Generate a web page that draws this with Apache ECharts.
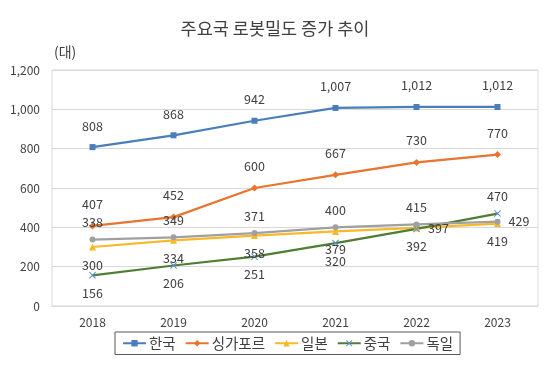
<!DOCTYPE html>
<html><head><meta charset="utf-8">
<script src="https://cdn.jsdelivr.net/npm/echarts@6/dist/echarts.min.js"></script>
<style>html,body{margin:0;padding:0;background:#fff}#c{width:550px;height:371px}</style>
</head><body><div id="c"></div>
<script>
const categories = ['2018','2019','2020','2021','2022','2023'];
const korea = [808, 868, 942, 1007, 1012, 1012];
const singapore = [407, 452, 600, 667, 730, 770];
const japan = [300, 334, 358, 379, 397, 419];
const china = [156, 206, 251, 320, 392, 470];
const germany = [338, 349, 371, 400, 415, 429];
const seriesNames = ['한국','싱가포르','일본','중국','독일'];
const yTicks = [0, 200, 400, 600, 800, 1000, 1200];

const FONT = '"Noto Sans CJK KR", "Noto Sans", sans-serif';
const xSym = 'path://M0,1L1,0L5,4L9,0L10,1L6,5L10,9L9,10L5,6L1,10L0,9L4,5Z';
const lbl = (pos) => ({show:true, position:pos, color:'#404040', fontSize:12.5, fontFamily:FONT, distance:8});
function withPos(arr, positions){
  return arr.map((v,i)=>({value:v, label:{position:positions[i]}}));
}
const chart = echarts.init(document.getElementById('c'));
chart.setOption({
  animation:false,
  title:[{text:'주요국 로봇밀도 증가 추이', left:'center', top:15, textStyle:{fontSize:17.5, fontWeight:'normal', color:'#404040', fontFamily:FONT}},
         {text:'(대)', left:49, top:40, textStyle:{fontSize:14, fontWeight:'normal', color:'#404040', fontFamily:FONT}}],
  grid:{left:52, right:12, top:70, bottom:65, show:true, borderColor:'#d9d9d9', borderWidth:1},
  legend:{left:115, top:332, itemGap:9, itemWidth:23, itemHeight:8, padding:[4,7,4,7],
    borderColor:'#595959', borderWidth:1, textStyle:{fontSize:14.5, color:'#404040', fontFamily:FONT, padding:[0,0,0,-2]}, data:seriesNames},
  xAxis:{type:'category', data:categories, boundaryGap:true,
    axisLine:{lineStyle:{color:'#d9d9d9'}}, axisTick:{show:false},
    axisLabel:{color:'#404040', fontSize:12, fontFamily:FONT, margin:10}},
  yAxis:{type:'value', min:0, max:1200, interval:200,
    axisLine:{show:false}, axisTick:{show:false},
    splitLine:{lineStyle:{color:'#d9d9d9'}},
    axisLabel:{color:'#404040', fontSize:12, fontFamily:FONT, margin:12,
      formatter:v=>yTicks.includes(v)? v.toLocaleString('en-US'):''}},
  series:[
    {name:'한국', type:'line', data:korea, symbol:'rect', symbolSize:6, color:'#4a7ebb',
      lineStyle:{width:2.2}, label:Object.assign(lbl('top'),{formatter:p=>p.value.toLocaleString('en-US'), distance:12})},
    {name:'싱가포르', type:'line', data:singapore, symbol:'diamond', symbolSize:7, color:'#e8742e',
      lineStyle:{width:2.2}, label:Object.assign(lbl('top'),{distance:12})},
    {name:'일본', type:'line', data:withPos(japan,['bottom','bottom','bottom','bottom','right','bottom']), symbol:'triangle', symbolSize:7, color:'#f7b82a',
      lineStyle:{width:2.2}, label:lbl('bottom')},
    {name:'중국', type:'line', data:withPos(china,['bottom','bottom','bottom','bottom','bottom','top']), symbol:xSym, symbolSize:7, color:'#4f7e33',
      itemStyle:{color:'#5b8fd0'}, lineStyle:{width:2.2, color:'#4f7e33'}, label:lbl('bottom')},
    {name:'독일', type:'line', data:withPos(germany,['top','top','top','top','top','right']), symbol:'circle', symbolSize:6, color:'#a0a0a0',
      lineStyle:{width:2.2}, label:lbl('top')}
  ]
});
</script></body></html>
